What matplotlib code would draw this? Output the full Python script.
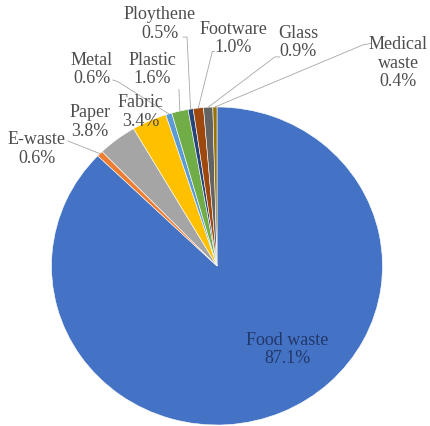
import numpy as np
import matplotlib.pyplot as plt

# waste composition (%), clockwise from 12 o'clock
categories = ["Food waste", "E-waste", "Paper", "Fabric", "Metal", "Plastic",
              "Ploythene", "Footware", "Glass", "Medical\nwaste"]
shares = [87.1, 0.6, 3.8, 3.4, 0.6, 1.6, 0.5, 1.0, 0.9, 0.4]
colors = ["#4472C4", "#ED7D31", "#A5A5A5", "#FFC000", "#5B9BD5", "#70AD47",
          "#264478", "#9E480E", "#636363", "#997300"]

# label centre, in data units (pie radius = 1)
label_pos = [(0.423, -0.519), (-1.088, 0.742), (-0.767, 0.912), (-0.46, 0.975),
             (-0.755, 1.24), (-0.393, 1.24), (-0.344, 1.528), (0.10, 1.435),
             (0.489, 1.41), (1.094, 1.283)]
# leader line points before it reaches the slice
leader = [None, [(-0.90, 0.786)], None, None, [(-0.63, 1.17), (-0.60, 1.16)],
          [(-0.23, 1.11)], [(-0.205, 1.44), (-0.181, 1.44)],
          [(-0.015, 1.35), (-0.028, 1.35)], [(0.38, 1.315), (0.35, 1.315)],
          [(0.93, 1.40), (0.88, 1.39)]]

plt.rcParams['font.family'] = ['Liberation Serif', 'DejaVu Serif']

fig = plt.figure(figsize=(4.31, 4.27), dpi=100)
ax = fig.add_axes([51.5 / 431, 1 / 427, 331 / 431, 318 / 427])

wedges, _ = ax.pie(shares, colors=colors, startangle=90, counterclock=False,
                   radius=1, wedgeprops=dict(edgecolor="white", linewidth=0.4))
ax.set_aspect('auto')
ax.set_xlim(-1, 1)
ax.set_ylim(-1, 1)
ax.axis('off')

total = sum(shares)
for i, (name, val) in enumerate(zip(categories, shares)):
    txt = f"{name}\n{val:.1f}%"
    lx, ly = label_pos[i]
    if i == 0:
        ax.text(lx, ly, txt, ha="center", va="center", fontsize=13,
                color="#22386a", linespacing=1.1)
        continue
    ax.text(lx, ly, txt, ha="center", va="center", fontsize=13,
            color="#4d4d4d", linespacing=1.1, clip_on=False)
    # mid angle of the slice
    mid = sum(shares[:i]) + val / 2
    ang = np.deg2rad(90 - 360 * mid / total)
    ex, ey = np.cos(ang), np.sin(ang)
    if leader[i]:
        pts = leader[i] + [(ex, ey)]
        ax.plot([p[0] for p in pts], [p[1] for p in pts], color="#a6a6a6",
                linewidth=0.6, clip_on=False)

fig.savefig("out.png", dpi=100)
